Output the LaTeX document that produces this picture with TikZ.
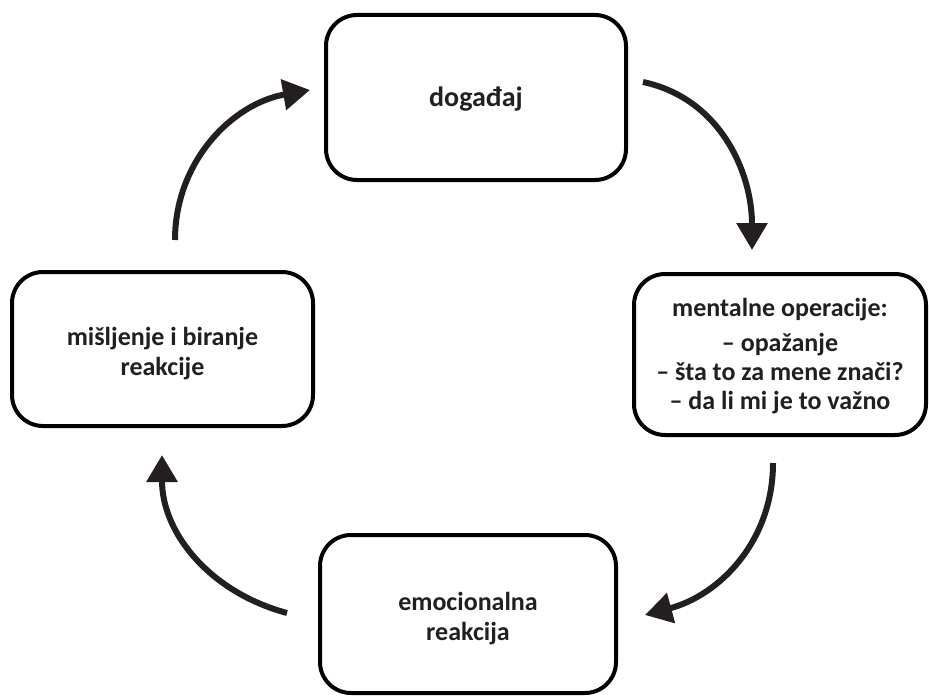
\documentclass[tikz,border=0pt]{standalone}
\usepackage{fontspec}
\setmainfont{Carlito}
\usetikzlibrary{arrows.meta}
\definecolor{ink}{HTML}{231F20}
\tikzset{
  stagebox/.style={draw=black, line width=4pt, rounded corners=31pt, fill=white,
    inner sep=0pt},
  stagetext/.style={align=center, text=ink, inner sep=0pt,
    font=\fontsize{26}{30}\selectfont\bfseries},
  cyclearrow/.style={draw=ink, line width=6pt,
    -{Triangle[width=30pt,length=27pt]}}
}
\begin{document}
\begin{tikzpicture}[x=1pt,y=-1pt]
\useasboundingbox (0,0) rectangle (929,698);
\node[stagebox, minimum width=300pt, minimum height=165pt] (top) at (476,97.5) {};
\node[stagebox, minimum width=292pt, minimum height=161pt] (right) at (780,354.5) {};
\node[stagebox, minimum width=296pt, minimum height=158pt] (bottom) at (468,614) {};
\node[stagebox, minimum width=301pt, minimum height=154pt] (left) at (162.5,349) {};
\node[stagetext, font=\fontsize{28}{32}\selectfont\bfseries] (toptext) at ([yshift=-2pt]top.center) {događaj};
\node[stagetext] (righttext) at ([yshift=-2pt]right.center)
  {mentalne operacije:\\[5pt] – opažanje\\[-1pt] – šta to za mene znači?\\[-1pt] – da li mi je to važno};
\node[stagetext] (bottomtext) at ([yshift=-5pt]bottom.center) {emocionalna\\ reakcija};
\node[stagetext] (lefttext) at ([yshift=-5pt]left.center) {mišljenje i biranje\\ reakcije};
\coordinate (a1s) at (643,82);
\coordinate (a1e) at (752,250);
\coordinate (a2s) at (773,463);
\coordinate (a2e) at (645,615);
\coordinate (a3s) at (287,613);
\coordinate (a3e) at (162,455);
\coordinate (a4s) at (175,240);
\coordinate (a4e) at (310,90);
\draw[cyclearrow] (a1s) to[out=-12, in=90] (a1e);
\draw[cyclearrow] (a2s) to[out=-90, in=15] (a2e);
\draw[cyclearrow] (a3s) to[out=165, in=-90] (a3e);
\draw[cyclearrow] (a4s) to[out=90, in=190] (a4e);
\end{tikzpicture}
\end{document}
